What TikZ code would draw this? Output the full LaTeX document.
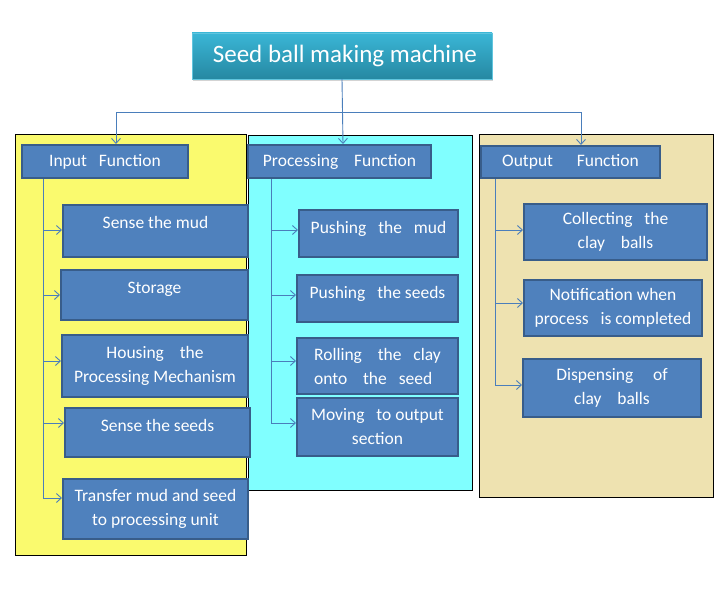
\documentclass[tikz,border=0pt]{standalone}
\usepackage{fontspec}
\setmainfont{Carlito}
\usepackage{tikz}
\usetikzlibrary{arrows.meta}
\usetikzlibrary{shadows}

\definecolor{boxblue}{RGB}{79,129,189}
\definecolor{boxedge}{RGB}{56,93,138}
\definecolor{linkblue}{RGB}{74,126,187}
\definecolor{inyellow}{RGB}{250,250,110}
\definecolor{proccyan}{RGB}{128,255,255}
\definecolor{outtan}{RGB}{238,226,176}
\definecolor{titletop}{RGB}{58,182,214}
\definecolor{titlebot}{RGB}{38,136,162}

\begin{document}
\begin{tikzpicture}[x=1pt,y=-1pt,
        panel/.style={rectangle,draw=black,line width=1.2pt,anchor=north west,inner sep=0pt},
        headrect/.style={rectangle,draw=boxedge,line width=2pt,fill=boxblue,anchor=north west,
            text=white,font=\fontsize{17.5pt}{24pt}\selectfont,align=center,inner sep=0pt},
        oneline/.style={text height=23pt},
        link/.style={draw=linkblue,line width=0.9pt,-{Straight Barb[length=5pt,width=9pt]}},
        ]
        \useasboundingbox (0,0) rectangle (719,596);

        % title
        \node[rectangle,minimum width=300pt,minimum height=46pt,top color=titletop,bottom color=titlebot,
            draw=titletop!80!white,text=white,font=\fontsize{25pt}{28pt}\selectfont,
            drop shadow={opacity=0.35,shadow xshift=1pt,shadow yshift=-2pt}](title) at (342,56){~Seed ball making machine};

        % the three panels
        \node[panel,fill=inyellow,minimum width=231pt,minimum height=421pt](inpanel) at (15,134){};
        \node[panel,fill=proccyan,minimum width=224pt,minimum height=355pt](procpanel) at (248,135){};
        \node[panel,fill=outtan,minimum width=234pt,minimum height=363pt](outpanel) at (479,134){};

        % heads
        \node[headrect,minimum width=166pt,minimum height=33pt](inhead) at (21,144){Input~~~Function};
        \node[headrect,minimum width=183pt,minimum height=33pt](prochead) at (247,144){Processing~~~~Function};
        \node[headrect,minimum width=179pt,minimum height=32pt](outhead) at (480,145){Output~~~~~~Function};

        % input steps
        \node[headrect,oneline,minimum width=185pt,text depth=29pt](mud) at (62,204){Sense the mud};
        \node[headrect,oneline,minimum width=187pt,text depth=27pt](storage) at (60,269){Storage};
        \node[headrect,minimum width=186pt,minimum height=62pt](housing) at (61,334){Housing~~~~the\\Processing Mechanism};
        \node[headrect,oneline,minimum width=185pt,text depth=26pt](seeds) at (64,407){Sense the seeds};
        \node[headrect,minimum width=185pt,minimum height=60pt](transfer) at (62,478){Transfer mud and seed\\to processing unit};

        % processing steps
        \node[headrect,oneline,minimum width=159pt,text depth=24pt](pmud) at (298,209){Pushing~~~the~~~mud};
        \node[headrect,oneline,minimum width=161pt,text depth=24pt](pseeds) at (296,274){Pushing~~~the seeds};
        \node[headrect,align=left,minimum width=161pt,minimum height=56pt](rolling) at (296,337){Rolling~~~~the~~~clay\\onto~~~~the~~~seed};
        \node[headrect,minimum width=161pt,minimum height=58pt](moving) at (296,397){Moving~~~to output\\section};

        % output steps
        \node[headrect,minimum width=183pt,minimum height=56pt](collect) at (523,203){Collecting~~~the\\clay~~~~balls};
        \node[headrect,minimum width=178pt,minimum height=56pt](notify) at (523,279){Notification when\\process~~~is completed};
        \node[headrect,minimum width=178pt,minimum height=58pt](dispense) at (522,358){Dispensing~~~~~of\\clay~~~~balls};

        % title to heads
        \coordinate (fork) at (342,112);
        \draw[link] (title.south) -- ([xshift=3.5pt]prochead.north);
        \draw[link] (fork) -| ([xshift=11pt]inhead.north);
        \draw[link] (fork) -| ([xshift=10.5pt]outhead.north);

        % heads to steps
        \coordinate (inbus) at ([xshift=22pt]inhead.south west);
        \foreach \b/\s in {mud/1,storage/0,housing/5,seeds/9.5,transfer/11}
            \draw[link] (inbus) |- ([yshift=\s pt]\b.west);
        \coordinate (procbus) at ([xshift=24pt]prochead.south west);
        \foreach \b/\s in {pmud/3.5,pseeds/3.5,rolling/5,moving/4}
            \draw[link] (procbus) |- ([yshift=\s pt]\b.west);
        \coordinate (outbus) at ([xshift=15pt]outhead.south west);
        \foreach \b/\s in {collect/2,notify/5,dispense/3}
            \draw[link] (outbus) |- ([yshift=\s pt]\b.west);

        \end{tikzpicture}
\end{document}
